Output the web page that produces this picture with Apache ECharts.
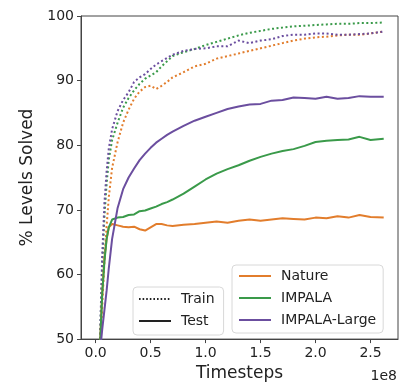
<!DOCTYPE html>
<html>
<head>
<meta charset="utf-8">
<script src="https://cdn.jsdelivr.net/npm/echarts@6/dist/echarts.min.js"></script>
<style>
html,body{margin:0;padding:0;background:#fff;}
#myChart{width:400px;height:387px;}
</style>
</head>
<body>
<div id="myChart"></div>
<script>
// timesteps, in units of 1e8
var steps = [0.04,0.06,0.08,0.1,0.12,0.15,0.2,0.25,0.3,0.35,0.4,0.45,0.5,0.55,0.6,0.65,0.7,0.8,0.9,1.0,1.1,1.2,1.3,1.4,1.5,1.6,1.7,1.8,1.9,2.0,2.1,2.2,2.3,2.4,2.5,2.62];

// % levels solved, test (solid)
var natureTest = [49,57,62.5,65.5,67.3,67.8,67.6,67.4,67.3,67.4,67.0,66.8,67.3,67.8,67.8,67.6,67.5,67.7,67.8,68.0,68.2,68.0,68.3,68.5,68.3,68.5,68.7,68.6,68.5,68.8,68.7,69.0,68.8,69.2,68.9,68.8];
var impalaTest = [49,57,62,65.5,67.3,68.5,68.8,68.9,69.2,69.3,69.8,69.9,70.2,70.5,70.9,71.2,71.6,72.5,73.6,74.7,75.6,76.3,76.9,77.6,78.2,78.7,79.1,79.4,79.9,80.5,80.7,80.8,80.9,81.3,80.8,81.0];
var largeTest = [48,51.5,54.5,57.5,61,65.5,70.3,73.2,75.0,76.4,77.7,78.7,79.6,80.4,81.0,81.6,82.1,83.0,83.8,84.4,85.0,85.6,86.0,86.3,86.4,86.9,87.0,87.4,87.3,87.2,87.5,87.2,87.3,87.6,87.5,87.5];

// % levels solved, train (dotted)
var natureTrain = [47,55,62,67.5,72,76.5,80.5,83.5,85.5,87.2,88.3,89.0,89.2,88.7,89.2,89.8,90.5,91.3,92.2,92.6,93.4,93.8,94.2,94.6,95.0,95.4,95.8,96.2,96.5,96.7,96.8,97.0,97.1,97.1,97.3,97.6];
var impalaTrain = [50,61,69,74,77.8,80.8,83.5,85.8,87.3,88.5,89.5,90.3,90.8,91.3,92.2,93.0,93.8,94.4,94.9,95.5,96.0,96.5,97.0,97.4,97.7,98.0,98.2,98.4,98.5,98.6,98.7,98.8,98.8,98.9,98.9,99.0];
var largeTrain = [50,63,71,76,79.5,82.5,85.3,87.0,88.2,89.8,90.5,91.0,91.8,92.5,93.0,93.5,94.0,94.6,94.9,95.0,95.3,95.3,96.2,95.8,96.2,96.4,96.9,97.1,97.1,97.3,97.3,97.1,97.1,97.2,97.3,97.6];

// half width of the shaded bands
var natureTestBand = [0,0,0.2,0.3,0.3,0.3,0.3,0.3,0.3,0.3,0.4,0.5,0.4,0.3,0.3,0.3,0.3,0.3,0.3,0.3,0.3,0.3,0.3,0.3,0.3,0.3,0.3,0.3,0.3,0.3,0.3,0.3,0.3,0.35,0.3,0.3];
var impalaTestBand = [0,0,0.3,0.4,0.5,0.6,0.5,0.4,0.4,0.4,0.4,0.4,0.4,0.4,0.4,0.4,0.4,0.4,0.4,0.4,0.4,0.5,0.5,0.5,0.6,0.6,0.6,0.6,0.6,0.7,0.7,0.7,0.7,0.8,0.8,0.8];
var largeTestBand = [0,0.3,0.4,0.4,0.4,0.4,0.4,0.4,0.4,0.4,0.4,0.5,0.5,0.5,0.5,0.5,0.5,0.5,0.5,0.6,0.6,0.6,0.5,0.5,0.6,0.6,0.5,0.5,0.5,0.6,0.6,0.7,0.6,0.6,0.6,0.6];
var natureTrainBand = [0,0.3,0.4,0.4,0.4,0.4,0.4,0.4,0.5,0.5,0.6,0.8,0.8,0.6,0.5,0.4,0.4,0.4,0.4,0.6,0.5,0.4,0.4,0.4,0.3,0.3,0.3,0.3,0.3,0.3,0.3,0.3,0.3,0.3,0.3,0.3];
var impalaTrainBand = [0,0.4,0.6,0.8,1.0,1.0,0.6,0.4,0.4,0.5,0.6,0.8,1.0,1.2,1.0,0.6,0.4,0.3,0.3,0.3,0.3,0.2,0.2,0.2,0.2,0.2,0.2,0.2,0.2,0.2,0.2,0.2,0.2,0.2,0.2,0.2];
var largeTrainBand = [0,0.4,0.5,0.6,0.7,0.8,0.6,0.5,0.5,0.6,0.5,0.5,0.5,0.5,0.5,0.5,0.5,0.5,0.5,0.5,0.5,0.6,0.7,0.6,0.5,0.5,0.4,0.4,0.4,0.4,0.4,0.4,0.4,0.4,0.4,0.4];

var xTicks = [0, 0.5, 1.0, 1.5, 2.0, 2.5];

var cOrange = '#e27d2c';
var cGreen = '#3a9a4a';
var cPurple = '#6b4e9f';
var font = 'DejaVu Sans';

function pairs(arr){
        return steps.map(function(x,i){ return [x, arr[i]]; });
}

function band(key, vals, half, color){
        return [
                {
                type:'line', stack:key, silent:true, symbol:'none',
                lineStyle:{opacity:0},
                data: steps.map(function(x,i){ return [x, vals[i]-half[i]]; })
                },
                {
                type:'line', stack:key, silent:true, symbol:'none',
                lineStyle:{opacity:0},
                areaStyle:{color:color, opacity:0.28},
                data: steps.map(function(x,i){ return [x, 2*half[i]]; })
                }
        ];
}

function curve(name, vals, color, dotted){
        return {
                type:'line', name:name, symbol:'none', z:5,
                data: pairs(vals),
                lineStyle:{color:color, width:2, type: dotted ? [2,2.5] : 'solid'}
        };
}

var series = [];
series = series.concat(band('b1', natureTrain, natureTrainBand, cOrange));
series = series.concat(band('b2', impalaTrain, impalaTrainBand, cGreen));
series = series.concat(band('b3', largeTrain, largeTrainBand, cPurple));
series = series.concat(band('b4', natureTest, natureTestBand, cOrange));
series = series.concat(band('b5', impalaTest, impalaTestBand, cGreen));
series = series.concat(band('b6', largeTest, largeTestBand, cPurple));
series.push(curve('natureTrain', natureTrain, cOrange, true));
series.push(curve('impalaTrain', impalaTrain, cGreen, true));
series.push(curve('largeTrain', largeTrain, cPurple, true));
series.push(curve('natureTest', natureTest, cOrange, false));
series.push(curve('impalaTest', impalaTest, cGreen, false));
series.push(curve('largeTest', largeTest, cPurple, false));
// legend entries only
series.push({type:'line', name:'Train', data:[], symbol:'none', color:'#222', lineStyle:{color:'#222', width:1.6, type:[1.6,2]}});
series.push({type:'line', name:'Test', data:[], symbol:'none', color:'#222', lineStyle:{color:'#222', width:2.2}});
series.push({type:'line', name:'Nature', data:[], symbol:'none', color:cOrange, lineStyle:{color:cOrange, width:2}});
series.push({type:'line', name:'IMPALA', data:[], symbol:'none', color:cGreen, lineStyle:{color:cGreen, width:2}});
series.push({type:'line', name:'IMPALA-Large', data:[], symbol:'none', color:cPurple, lineStyle:{color:cPurple, width:2}});

var legendBase = {
        orient:'vertical',
        itemWidth:32, itemHeight:16, itemGap:6,
        itemStyle:{opacity:0},
        backgroundColor:'#fff', borderColor:'#d8d8d8', borderWidth:1, borderRadius:4,
        textStyle:{fontFamily:font, fontSize:14, color:'#222', lineHeight:16, padding:[0,0,0,5]},
        selectedMode:false
};

var option = {
        animation:false,
        textStyle:{fontFamily:font},
        grid:{left:81, right:2, top:16, bottom:44, show:true, borderColor:'#444', borderWidth:1},
        xAxis:{
                type:'value', min:-0.133, max:2.75,
                name:'Timesteps', nameLocation:'middle', nameGap:25,
                nameTextStyle:{fontFamily:font, fontSize:17, color:'#222'},
                splitLine:{show:false},
                axisLine:{show:true, onZero:false, lineStyle:{color:'#444'}},
                axisTick:{show:true, length:4, lineStyle:{color:'#444'}, customValues:xTicks},
                axisLabel:{fontFamily:font, fontSize:14, color:'#222', margin:7, customValues:xTicks,
                        formatter:function(v){ return v.toFixed(1); }}
        },
        yAxis:{
                type:'value', min:50, max:100, interval:10,
                name:'% Levels Solved', nameLocation:'middle', nameGap:45,
                nameTextStyle:{fontFamily:font, fontSize:17, color:'#222'},
                splitLine:{show:false},
                axisLine:{show:true, onZero:false, lineStyle:{color:'#444'}},
                axisTick:{show:true, length:4, lineStyle:{color:'#444'}},
                axisLabel:{fontFamily:font, fontSize:14, color:'#222', margin:7}
        },
        legend:[
                Object.assign({}, legendBase, {data:['Train','Test'], left:133, top:287, padding:[4,9,6,5]}),
                Object.assign({}, legendBase, {data:['Nature','IMPALA','IMPALA-Large'], left:232, top:265, padding:[3,7,5,6]})
        ],
        graphic:[
                {type:'text', right:3, top:369, style:{text:'1e8', fontFamily:font, fontSize:14, fill:'#222'}}
        ],
        series:series
};

var myChart = echarts.init(document.getElementById('myChart'));
myChart.setOption(option);
</script>
</body>
</html>
